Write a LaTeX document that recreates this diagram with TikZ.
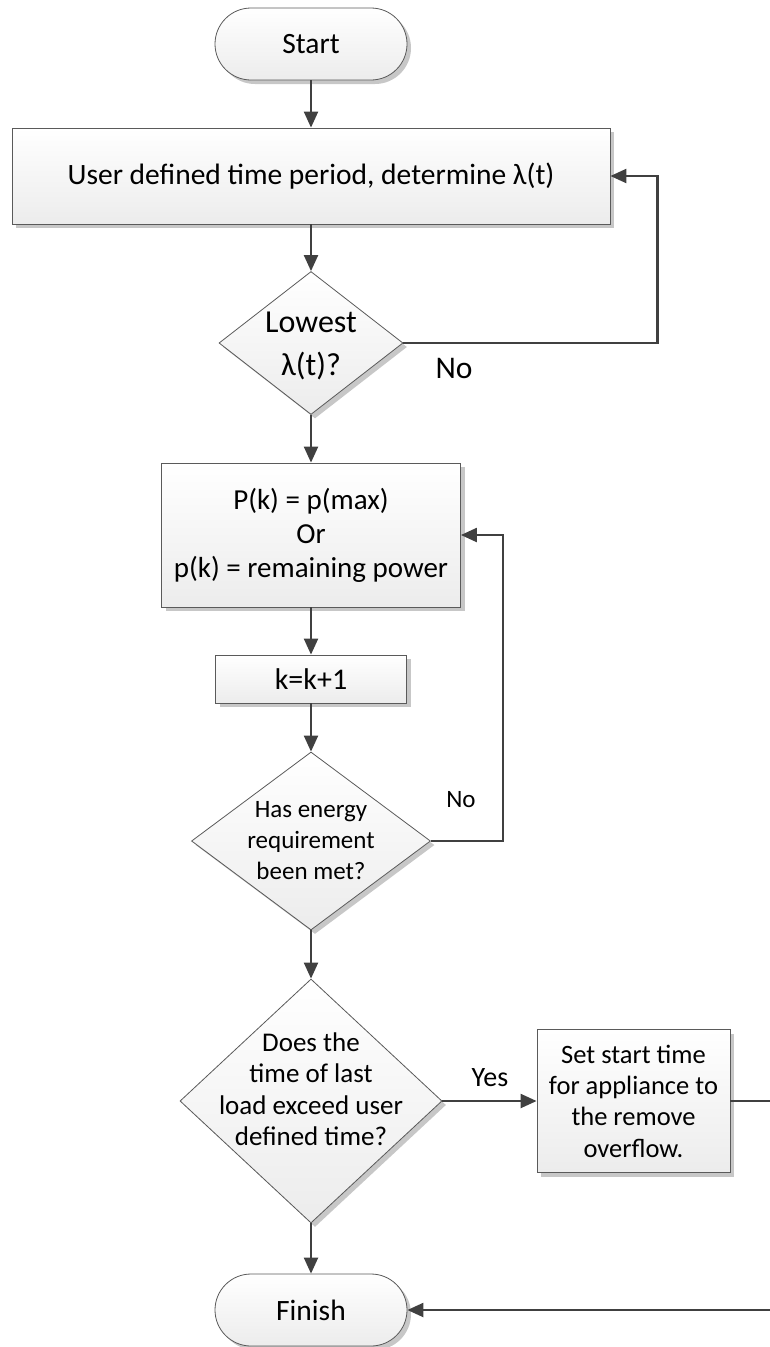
\documentclass[tikz,border=0pt]{standalone}
\usepackage{fontspec}
\setmainfont{Carlito}
\usetikzlibrary{shapes.geometric,arrows.meta,shadows}
\definecolor{linegray}{HTML}{404040}
\definecolor{edgegray}{HTML}{5A5A5A}
\definecolor{shadegray}{HTML}{ECECEC}

\begin{document}
\begin{tikzpicture}[x=1pt,y=-1pt,
  box/.style={draw=edgegray,line width=0.8pt,top color=white,bottom color=shadegray,inner sep=0pt,align=center,
    drop shadow={shadow xshift=4pt,shadow yshift=-4pt,fill=black!22,opacity=1}},
  termbox/.style={box,rounded corners=36pt,minimum width=192pt,minimum height=72pt},
  procbox/.style={box,rectangle},
  decbox/.style={box,diamond},
  flow/.style={draw=linegray,line width=2.2pt,-{Triangle[length=16pt,width=14pt]}},
  tag/.style={inner sep=0pt}]
\path[use as bounding box] (0,0) rectangle (770,1347);
\node[termbox,font=\fontsize{29.5}{34}\selectfont] (start) at (311,44) {Start};
\node[procbox,minimum width=598pt,minimum height=96pt,font=\fontsize{29.5}{34}\selectfont] (period) at (311,176) {User defined time period, determine λ(t)};
\node[decbox,minimum width=184pt,minimum height=143pt,label={[font=\fontsize{32}{43}\selectfont,align=center,yshift=-3pt]center:Lowest\\λ(t)?}] (lowest) at (311,343) {};
\node[tag,font=\fontsize{31.5}{36}\selectfont] (nolow) at (454,368) {No};
\node[procbox,minimum width=299pt,minimum height=144pt,font=\fontsize{29}{34}\selectfont] (pmax) at (311,535) {P(k) = p(max)\\Or\\p(k) = remaining power};
\node[procbox,minimum width=191pt,minimum height=48pt,font=\fontsize{30}{34}\selectfont] (inc) at (311,679) {k=k+1};
\node[decbox,minimum width=239pt,minimum height=178pt,label={[font=\fontsize{25}{31}\selectfont,align=center]center:Has energy\\requirement\\been met?}] (met) at (311,841) {};
\node[tag,font=\fontsize{25}{30}\selectfont] (nomet) at (461,800) {No};
\node[decbox,minimum width=262pt,minimum height=244pt,label={[font=\fontsize{27}{31.5}\selectfont,align=center,yshift=12pt]center:Does the\\time of last\\load exceed user\\defined time?}] (over) at (311,1101) {};
\node[tag,font=\fontsize{28}{33}\selectfont] (yes) at (490,1078) {Yes};
\node[procbox,minimum width=193pt,minimum height=143pt,font=\fontsize{26.5}{31.3}\selectfont] (shift) at (633.5,1101) {Set start time\\for appliance to\\the remove\\overflow.};
\node[termbox,font=\fontsize{29.5}{34}\selectfont] (fin) at (311,1310) {Finish};
\draw[flow] (start) -- (period);
\draw[flow] (period) -- (lowest);
\draw[flow] (lowest.east) -- ++(254,0) |- (period.east);
\draw[flow] (lowest) -- (pmax);
\draw[flow] (pmax) -- (inc);
\draw[flow] (inc) -- (met);
\draw[flow] (met.east) -- ++(72,0) |- (pmax.east);
\draw[flow] (met) -- (over);
\draw[flow] (over) -- (shift);
\draw[flow] (over) -- (fin);
\draw[flow] (shift.east) -- ++(50,0) |- (fin.east);
\end{tikzpicture}
\end{document}
